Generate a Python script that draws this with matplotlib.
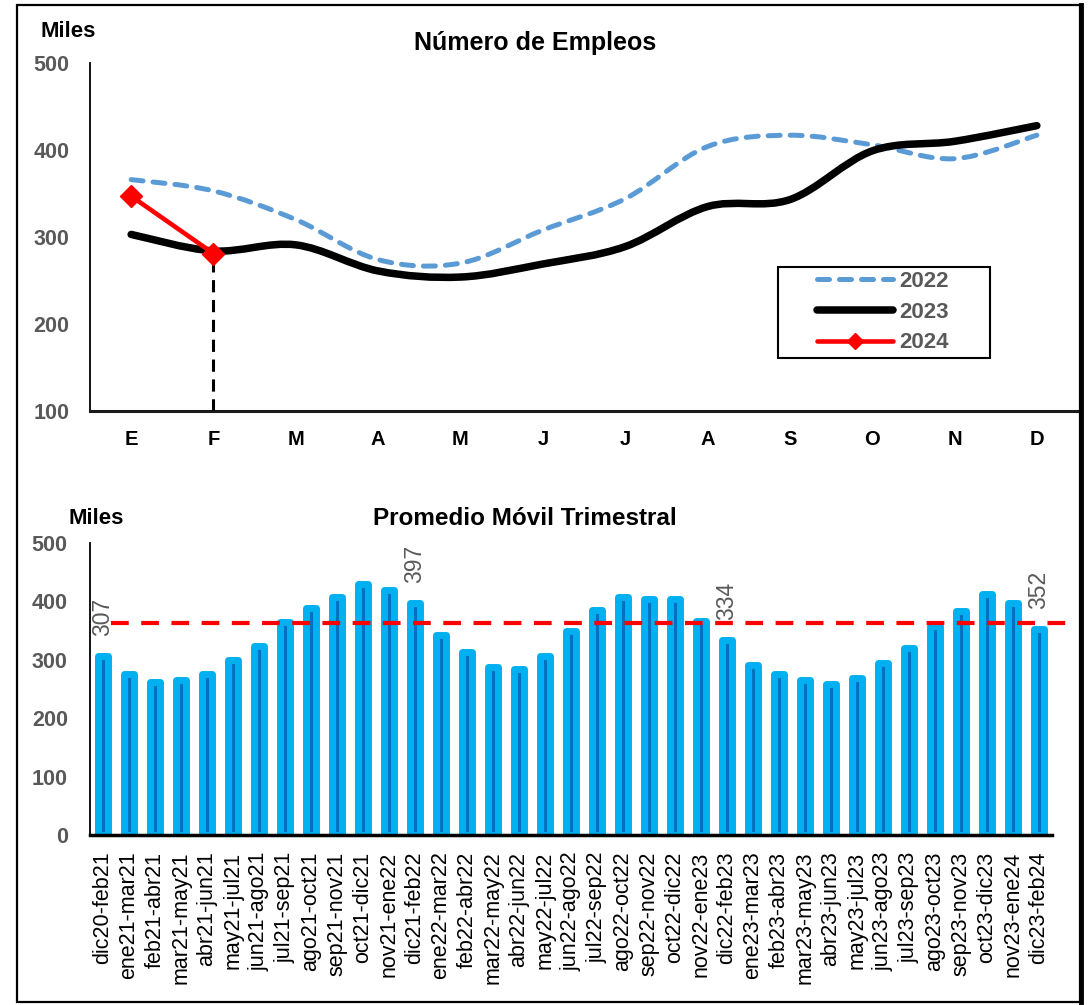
import numpy as np
import matplotlib
matplotlib.use('Agg')
import matplotlib.pyplot as plt
from matplotlib.path import Path
from matplotlib.patches import PathPatch, Rectangle
from matplotlib.lines import Line2D

plt.rcParams['font.family'] = ['Liberation Sans', 'DejaVu Sans']

# ---------------- data ----------------
meses = ['E', 'F', 'M', 'A', 'M', 'J', 'J', 'A', 'S', 'O', 'N', 'D']
empleo_2022 = [366, 353, 320, 274, 270, 308, 344, 404, 417, 406, 390, 417]
empleo_2023 = [303, 284, 291, 261, 254, 269, 289, 335, 343, 399, 410, 428]
empleo_2024 = [347, 281]
series_labels = ['2022', '2023', '2024']

periodos = ['dic20-feb21', 'ene21-mar21', 'feb21-abr21', 'mar21-may21', 'abr21-jun21',
            'may21-jul21', 'jun21-ago21', 'jul21-sep21', 'ago21-oct21', 'sep21-nov21',
            'oct21-dic21', 'nov21-ene22', 'dic21-feb22', 'ene22-mar22', 'feb22-abr22',
            'mar22-may22', 'abr22-jun22', 'may22-jul22', 'jun22-ago22', 'jul22-sep22',
            'ago22-oct22', 'sep22-nov22', 'oct22-dic22', 'nov22-ene23', 'dic22-feb23',
            'ene23-mar23', 'feb23-abr23', 'mar23-may23', 'abr23-jun23', 'may23-jul23',
            'jun23-ago23', 'jul23-sep23', 'ago23-oct23', 'sep23-nov23', 'oct23-dic23',
            'nov23-ene24', 'dic23-feb24']
promedio_movil = [307, 276, 262, 265, 276, 299, 324, 364, 389, 408, 430, 419, 397,
                  343, 313, 288, 284, 306, 349, 385, 408, 404, 404, 367, 334, 291,
                  276, 265, 258, 269, 295, 320, 357, 383, 412, 397, 352]
referencia = 363

GRAY = '#595959'
BLUE = '#5B9BD5'


def smooth_path(x, y):
    """Excel-like smoothed line (Catmull-Rom as cubic Bezier)."""
    x = np.asarray(x, float)
    y = np.asarray(y, float)
    n = len(x)
    verts = [(x[0], y[0])]
    codes = [Path.MOVETO]
    for i in range(n - 1):
        p0 = np.array([x[max(i - 1, 0)], y[max(i - 1, 0)]])
        p1 = np.array([x[i], y[i]])
        p2 = np.array([x[i + 1], y[i + 1]])
        p3 = np.array([x[min(i + 2, n - 1)], y[min(i + 2, n - 1)]])
        c1 = p1 + (p2 - p0) / 6.0
        c2 = p2 - (p3 - p1) / 6.0
        verts += [tuple(c1), tuple(c2), tuple(p2)]
        codes += [Path.CURVE4] * 3
    return Path(verts, codes)


fig = plt.figure(figsize=(10.92, 10.05), dpi=100)

# ---------------- top chart ----------------
ax1 = fig.add_axes([0.0824, 0.5910, 0.9048, 0.3463])
xm = np.arange(len(meses))
dash_blue = (0, (2.4, 2.0))
ax1.add_patch(PathPatch(smooth_path(xm, empleo_2022), fill=False, edgecolor=BLUE,
                        lw=3.6, linestyle=dash_blue, capstyle='round', zorder=2))
ax1.add_patch(PathPatch(smooth_path(xm, empleo_2023), fill=False, edgecolor='black',
                        lw=5.4, capstyle='round', joinstyle='round', zorder=3))
x24 = xm[:len(empleo_2024)]
ax1.plot([x24[-1], x24[-1]], [100, empleo_2024[-1]], color='black', lw=2.2,
         dashes=(4, 2.5), zorder=3)
ax1.plot(x24, empleo_2024, color='red', lw=3.3, marker='D', ms=11,
         solid_capstyle='round', zorder=4)

ax1.set_xlim(-0.5, len(meses) - 0.5)
ax1.set_ylim(100, 500)
ax1.set_yticks([100, 200, 300, 400, 500])
ax1.set_xticks(xm)
ax1.set_xticklabels(meses)
for s in ['top', 'right']:
    ax1.spines[s].set_visible(False)
ax1.spines['left'].set_linewidth(1.3)
ax1.spines['bottom'].set_linewidth(2.2)
ax1.spines['bottom'].set_color('#1a1a1a')
ax1.tick_params(axis='both', length=0)
ax1.tick_params(axis='y', pad=15, labelsize=15.5, labelcolor=GRAY)
ax1.tick_params(axis='x', pad=14, labelsize=14.5, labelcolor='black')
for t in ax1.get_yticklabels() + ax1.get_xticklabels():
    t.set_fontweight('bold')

handles = [Line2D([], [], color=BLUE, lw=3.6, linestyle=dash_blue, dash_capstyle='round'),
           Line2D([], [], color='black', lw=5.4, solid_capstyle='round'),
           Line2D([], [], color='red', lw=3.3, marker='D', ms=8, solid_capstyle='round')]
leg = ax1.legend(handles, series_labels, loc='upper left', bbox_to_anchor=(0.718, 0.454),
                 frameon=False, prop=dict(weight='bold', size=16), handlelength=3.4,
                 labelspacing=0.44, handletextpad=0.3, borderpad=0.3)
for t in leg.get_texts():
    t.set_color(GRAY)
ax1.add_patch(Rectangle((0.696, 0.152), 0.215, 0.262, transform=ax1.transAxes,
                        fill=False, edgecolor='black', lw=1.5, clip_on=False, zorder=5))

# ---------------- bottom chart ----------------
ax2 = fig.add_axes([0.0824, 0.1692, 0.8810, 0.2905])
xb = np.arange(len(periodos))
ax2.bar(xb, promedio_movil, width=0.39, color='#0070C0', edgecolor='#00B0F0',
        linewidth=5.0, joinstyle='round', zorder=2)
ax2.plot([0.3, len(periodos) + 0.04], [referencia, referencia], color='red', lw=3,
         dashes=(4.25, 3), clip_on=False, zorder=3)
for i, (p, v) in enumerate(zip(periodos, promedio_movil)):
    if p.startswith('dic'):
        ax2.annotate(str(v), (i, v), xytext=(0, 14.5), textcoords='offset points',
                     rotation=90, ha='center', va='bottom', fontsize=16.5, color=GRAY,
                     zorder=4)

ax2.set_xlim(-0.5, len(periodos) - 0.5)
ax2.set_ylim(0, 500)
ax2.set_yticks([0, 100, 200, 300, 400, 500])
ax2.set_xticks(xb)
ax2.set_xticklabels(periodos, rotation=90)
for s in ['top', 'right']:
    ax2.spines[s].set_visible(False)
ax2.spines['left'].set_linewidth(1.3)
ax2.spines['bottom'].set_linewidth(2.5)
ax2.tick_params(axis='both', length=0)
ax2.tick_params(axis='y', pad=16, labelsize=15.5, labelcolor=GRAY)
ax2.tick_params(axis='x', pad=12, labelsize=15.5, labelcolor='black')
for t in ax2.get_yticklabels():
    t.set_fontweight('bold')

# ---------------- titles / frame ----------------
fig.text(0.0375, 0.963, 'Miles', fontsize=16, fontweight='bold', ha='left', va='baseline')
fig.text(0.490, 0.950, 'Número de Empleos', fontsize=18, fontweight='bold',
         ha='center', va='baseline')
fig.text(0.0623, 0.479, 'Miles', fontsize=16, fontweight='bold', ha='left', va='baseline')
fig.text(0.481, 0.478, 'Promedio Móvil Trimestral', fontsize=17.5, fontweight='bold',
         ha='center', va='baseline')

fig.add_artist(Rectangle((0.0156, 0.003), 0.9734, 0.992, transform=fig.transFigure,
                         fill=False, edgecolor='black', lw=1.6))
fig.add_artist(Line2D([0.9895, 0.9895], [0.003, 0.995], transform=fig.transFigure,
                      color='black', lw=3.5))

fig.savefig('out.png', dpi=100)
